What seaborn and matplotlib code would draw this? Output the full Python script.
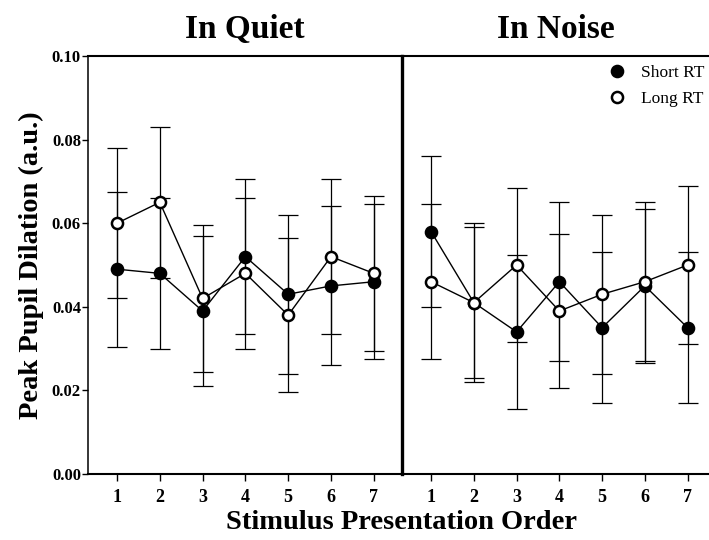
import pandas as pd
import seaborn as sns
import matplotlib.pyplot as plt
from matplotlib.lines import Line2D

order = [1, 2, 3, 4, 5, 6, 7]
quiet_short = [0.049, 0.048, 0.039, 0.052, 0.043, 0.045, 0.046]
quiet_short_err = [0.0185, 0.018, 0.018, 0.0185, 0.019, 0.019, 0.0185]
quiet_long = [0.060, 0.065, 0.042, 0.048, 0.038, 0.052, 0.048]
quiet_long_err = [0.018, 0.018, 0.0175, 0.018, 0.0185, 0.0185, 0.0185]
noise_short = [0.058, 0.041, 0.034, 0.046, 0.035, 0.045, 0.035]
noise_short_err = [0.018, 0.018, 0.0185, 0.019, 0.018, 0.0185, 0.018]
noise_long = [0.046, 0.041, 0.050, 0.039, 0.043, 0.046, 0.050]
noise_long_err = [0.0185, 0.019, 0.0185, 0.0185, 0.019, 0.019, 0.019]

sns.set_style('ticks')
plt.rcParams['font.family'] = ['Liberation Serif', 'DejaVu Serif']
plt.rcParams['text.color'] = 'black'
plt.rcParams['axes.labelcolor'] = 'black'
plt.rcParams['xtick.color'] = 'black'
plt.rcParams['ytick.color'] = 'black'

fig = plt.figure(figsize=(7.09, 5.40), dpi=100)
ax1 = fig.add_axes([0.124, 0.1222, 0.443, 0.7741])
ax2 = fig.add_axes([0.567, 0.1222, 0.433, 0.7741])

panels = [(ax1, 'In Quiet', quiet_short, quiet_short_err, quiet_long, quiet_long_err, 7.66),
          (ax2, 'In Noise', noise_short, noise_short_err, noise_long, noise_long_err, 7.5)]

for ax, title, short, short_err, long_, long_err, xmax in panels:
    df = pd.DataFrame({'order': order * 2,
                       'value': short + long_,
                       'err': short_err + long_err,
                       'group': ['Short RT'] * 7 + ['Long RT'] * 7})
    for grp in ['Short RT', 'Long RT']:
        sub = df[df['group'] == grp]
        ax.errorbar(sub['order'], sub['value'], yerr=sub['err'], fmt='none',
                    ecolor='black', elinewidth=0.9, capsize=7, capthick=0.9, zorder=2)
    for grp, face in [('Short RT', 'black'), ('Long RT', 'white')]:
        sub = df[df['group'] == grp]
        sns.lineplot(data=sub, x='order', y='value', ax=ax, color='black', linewidth=1,
                     marker='o', markersize=8, markerfacecolor=face,
                     markeredgecolor='black', markeredgewidth=1.8, legend=False, zorder=3)
    ax.set_xlim(0.32, xmax)
    ax.set_ylim(0, 0.10)
    ax.set_xticks(order)
    ax.set_xticklabels([str(o) for o in order], fontsize=13, fontweight='bold')
    ax.set_xlabel('')
    ax.set_ylabel('')
    ax.set_title(title, fontsize=24, fontweight='bold', pad=13)
    ax.tick_params(axis='x', direction='out', length=5, width=1, pad=6)
    for side in ['top', 'bottom']:
        ax.spines[side].set_linewidth(1.5)
        ax.spines[side].set_color('black')
        ax.spines[side].set_visible(True)

ax1.set_yticks([0, 0.02, 0.04, 0.06, 0.08, 0.10])
ax1.set_yticklabels(['0.00', '0.02', '0.04', '0.06', '0.08', '0.10'], fontsize=12, fontweight='bold')
ax1.tick_params(axis='y', direction='out', length=4, width=1, pad=1)
ax1.spines['left'].set_linewidth(1.1)
ax1.spines['left'].set_color('black')
ax1.spines['right'].set_visible(False)

# thick divider between the two panels
ax2.spines['left'].set_visible(True)
ax2.spines['left'].set_linewidth(2.4)
ax2.spines['left'].set_color('black')
ax2.spines['right'].set_visible(False)
ax2.tick_params(axis='y', left=False, labelleft=False)

ax1.set_ylabel('Peak Pupil Dilation (a.u.)', fontsize=20.5, fontweight='bold', labelpad=6)
fig.text(0.566, 0.033, 'Stimulus Presentation Order', ha='center', va='center',
         fontsize=20.5, fontweight='bold')

handles = [Line2D([], [], linestyle='none', marker='o', markersize=8, markerfacecolor='black',
                  markeredgecolor='black', markeredgewidth=1.8),
           Line2D([], [], linestyle='none', marker='o', markersize=8, markerfacecolor='white',
                  markeredgecolor='black', markeredgewidth=1.8)]
ax2.legend(handles, ['Short RT', 'Long RT'], loc='upper right', frameon=False, fontsize=12.5,
           handletextpad=0.4, borderaxespad=0, labelspacing=0.55, bbox_to_anchor=(1.008, 0.995))

fig.savefig('out.png', dpi=100)
